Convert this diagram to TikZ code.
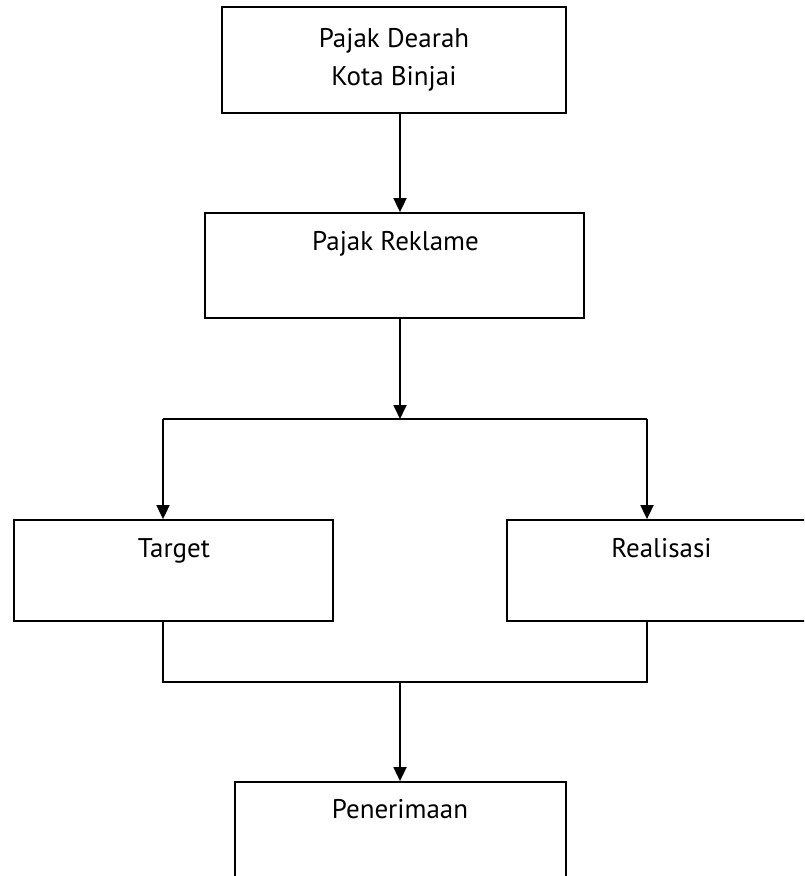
\documentclass[tikz,border=0pt]{standalone}
\usepackage{fontspec}
\setmainfont{PT Sans}
\usetikzlibrary{arrows.meta}
\begin{document}
\begin{tikzpicture}[x=1pt,y=-1pt,
  box/.style={draw=black,line width=1.8pt,rectangle,inner sep=0pt},
  lbl/.style={anchor=base,inner sep=0pt,font=\fontsize{27}{32}\selectfont},
  conn/.style={line width=1.8pt},
  arr/.style={conn,-{Triangle[width=13pt,length=14pt]}}]
\useasboundingbox (0,0) rectangle (804,876);
\clip (0,0) rectangle (804,876);
% boxes
\node[box,minimum width=344pt,minimum height=106pt] (b1) at (394,60) {};
\node[box,minimum width=379pt,minimum height=105pt] (b2) at (394.5,265.5) {};
\node[box,minimum width=319pt,minimum height=101pt] (tg) at (173.5,570.5) {};
\node[box,minimum width=309pt,minimum height=101pt] (rl) at (661.5,570.5) {};
\node[box,minimum width=331pt,minimum height=130pt] (pn) at (400.5,847) {};
% texts
\node[lbl] (t1a) at (394,47) {Pajak Dearah};
\node[lbl] (t1b) at (394,85) {Kota Binjai};
\node[lbl] (t2) at (395.5,250) {Pajak Reklame};
\node[lbl] (t3) at (174,557) {Target};
\node[lbl] (t4) at (661.5,557) {Realisasi};
\node[lbl] (t5) at (400,818) {Penerimaan};
% routing coordinates
\coordinate (sp) at (400,0);
\coordinate (j1) at (400,419);
\coordinate (lc) at (163,419);
\coordinate (rc) at (647,419);
\coordinate (j2) at (400,682);
% connectors
\draw[arr] (b1.south -| sp) -- (b2.north -| sp);
\draw[arr] (b2.south -| sp) -- (j1);
\draw[conn] (lc) -- (rc);
\draw[arr] (lc) -- (tg.north -| lc);
\draw[arr] (rc) -- (rl.north -| rc);
\draw[conn] (tg.south -| lc) |- (j2) -| (rl.south -| rc);
\draw[arr] (j2) -- (pn.north -| j2);
\end{tikzpicture}
\end{document}
